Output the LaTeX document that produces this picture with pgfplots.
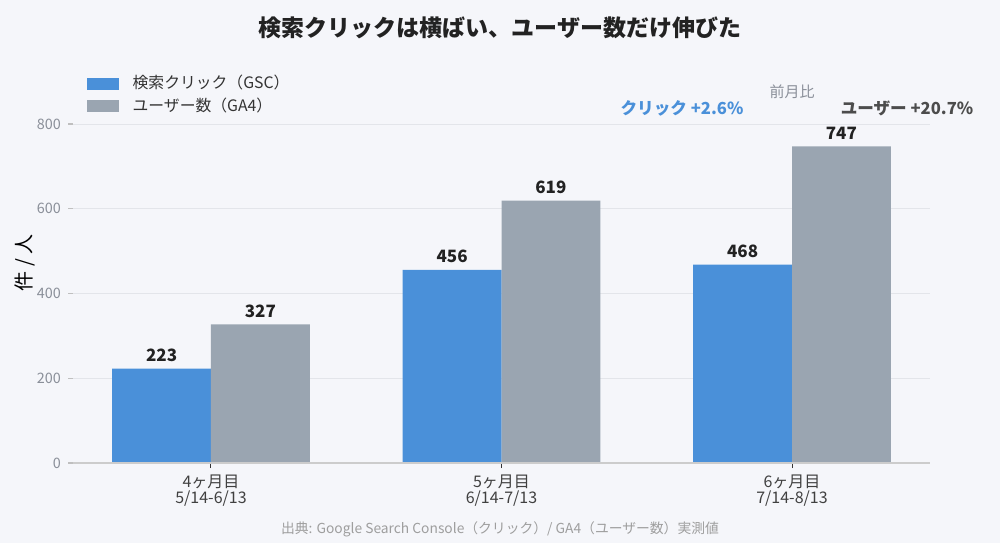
\documentclass[border=0pt]{standalone}
\usepackage{pgfplots}
\pgfplotsset{compat=1.18}
\usepackage{fontspec}
\setmainfont{Noto Sans CJK JP}

\definecolor{bg}{HTML}{F5F6FA}
\definecolor{cBlue}{HTML}{4A90D9}
\definecolor{cGray}{HTML}{9AA5B1}
\definecolor{gridc}{HTML}{E3E5EA}
\definecolor{tickc}{HTML}{8A8F99}
\definecolor{dark}{HTML}{222222}

\begin{document}
\begin{tikzpicture}
\fill[bg] (0,0) rectangle (500pt,271.5pt);
\path[use as bounding box] (0,0) rectangle (500pt,271.5pt);
\begin{axis}[
    at={(36.5pt,40pt)}, anchor=south west,
    scale only axis, width=428.5pt, height=169.5pt,
    ybar=0pt, bar width=0.34,
    xmin=-0.475, xmax=2.475,
    ymin=0, ymax=800,
    xtick={0,1,2},
    xticklabels={4ヶ月目\\5/14-6/13, 5ヶ月目\\6/14-7/13, 6ヶ月目\\7/14-8/13},
    xticklabel style={align=center, font=\fontsize{8}{8}\selectfont, text=black!75},
    ytick={0,200,400,600,800},
    yticklabel style={font=\fontsize{7.2}{7.5}\selectfont, text=tickc},
    /pgf/number format/assume math mode=true,
    axis line style={draw=none},
    axis x line*=bottom, axis y line*=left,
    tick align=outside,
    major tick length=2.5pt,
    x tick style={draw=black!80, line width=0.5pt},
    y tick style={draw=black!25, line width=0.6pt},
    ymajorgrids, grid style={draw=gridc, line width=0.5pt},
    ylabel={件 / 人},
    ylabel style={font=\fontsize{8}{8}\selectfont, text=black!60},
    every axis y label/.style={at={(rel axis cs:0,0.59)}, xshift=-24pt, rotate=90, anchor=center},
    clip=false,
    nodes near coords,
    every node near coord/.append style={font=\bfseries\fontsize{8.5}{9}\selectfont, text=dark},
    legend style={at={(0.0085,1.168)}, anchor=north west, draw=none, fill=none,
        font=\fontsize{7.9}{8}\selectfont, text=black!80, row sep=-1pt,
        /tikz/every odd column/.append style={column sep=5pt}},
    legend cell align=left,
    area legend,
    legend image code/.code={\fill[#1] (0pt,-3pt) rectangle (16pt,3pt);},
]
\addplot[fill=cBlue, draw=none] coordinates {(0,223) (1,456) (2,468)};
\addplot[fill=cGray, draw=none] coordinates {(0,327) (1,619) (2,747)};
\legend{検索クリック（GSC）, ユーザー数（GA4）}
\draw[draw=black!20, line width=0.8pt] (axis cs:-0.475,0) -- (axis cs:2.475,0);
\end{axis}
\begin{scope}[x=0.5pt, y=-0.5pt, shift={(0pt,271.5pt)}]
\node[font=\bfseries\fontsize{11.5}{12}\selectfont, text=dark] at (500,28) {検索クリックは横ばい、ユーザー数だけ伸びた};
\node[font=\fontsize{7.5}{8}\selectfont, text=tickc] at (792,92) {前月比};
\node[font=\bfseries\fontsize{8.3}{8}\selectfont, text=cBlue] at (682,108) {クリック +2.6\%};
\node[font=\bfseries\fontsize{8.3}{8}\selectfont, text=black!70] at (907,108) {ユーザー +20.7\%};
\node[font=\fontsize{6.9}{7}\selectfont, text=black!38] at (500,529) {出典: Google Search Console（クリック）/ GA4（ユーザー数）実測値};
\end{scope}
\end{tikzpicture}
\end{document}
